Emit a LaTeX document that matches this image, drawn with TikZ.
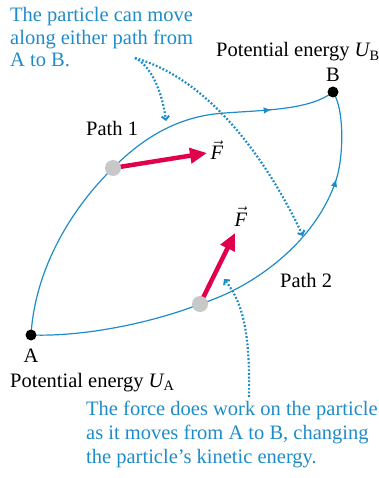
\documentclass[tikz,border=0pt]{standalone}
\usepackage{amsmath}
\usepackage{fontspec}
\setmainfont{Liberation Serif}
\usetikzlibrary{arrows.meta,decorations.markings}
\definecolor{cblue}{RGB}{30,140,200}
\definecolor{cred}{RGB}{224,0,77}
\definecolor{cgray}{RGB}{200,200,200}
\begin{document}
\begin{tikzpicture}[x=1pt,y=-1pt,
  every node/.style={inner sep=0pt, font=\fontsize{20.5}{22.5}\selectfont},
  pathline/.style={draw=cblue, line width=1.2pt},
  midarrow/.style={postaction={decorate},
    decoration={markings, mark=at position #1 with {\arrow{Latex[length=8pt,width=6.5pt]}}}},
  callout/.style={draw=cblue, line width=2.2pt, dash pattern=on 1.8pt off 1.9pt,
    -{Straight Barb[length=3.5pt,width=7.5pt,line width=2pt]}},
  force/.style={draw=cred, line width=4.5pt, -{Triangle[length=17pt,width=15pt]}},
  blackdot/.style={circle, fill=black, minimum size=11pt},
  graydot/.style={circle, fill=cgray, minimum size=16pt},
  bluetext/.style={text=cblue, align=left}]
\useasboundingbox (0,0) rectangle (379,478);
% key points
\coordinate (a) at (31,335);
\coordinate (b) at (333,92);
\coordinate (p1) at (113,168);
\coordinate (p2) at (200,304);
\coordinate (m1) at (225,113);
\coordinate (m2) at (337,177);
\coordinate (f1) at (207,153);
\coordinate (f2) at (235,233);
\coordinate (c1) at (135,58);
\coordinate (c1a) at (166,121);
\coordinate (c1b) at (303,236);
\coordinate (c2) at (249,397);
\coordinate (c2a) at (224,279);
% path 1
\draw[pathline] (a) .. controls (35,270) and (70,210) .. (p1)
  .. controls (140,141) and (175,116) .. (m1);
\draw[pathline, midarrow=0.42] (m1) .. controls (265,110) and (310,110) .. (b);
% path 2
\draw[pathline] (a) .. controls (90,337) and (160,320) .. (p2);
\draw[pathline, midarrow=0.99] (p2) .. controls (255,287) and (318,240) .. (m2);
\draw[pathline] (m2) .. controls (343,157) and (345,110) .. (b);
% callouts
\draw[callout] (c1) .. controls (150,65) and (162,90) .. (c1a);
\draw[callout] (c1) .. controls (205,78) and (262,150) .. (c1b);
\draw[callout] (c2) .. controls (250,340) and (245,305) .. (c2a);
% forces
\draw[force] (p1) -- (f1);
\draw[force] (p2) -- (f2);
% dots
\node[blackdot] (A) at (a) {};
\node[blackdot] (B) at (b) {};
\node[graydot] (P1) at (p1) {};
\node[graydot] (P2) at (p2) {};
% labels
\node[anchor=base] (F1) at (217,160) {$\vec{\text{\itshape F}}$};
\node[anchor=base] (F2) at (241,226) {$\vec{\text{\itshape F}}$};
\node[bluetext, anchor=base west] (note1) at (10,67)
  {The particle can move\\along either path from\\A to B.};
\node[anchor=base west] (UB) at (216,57) {Potential energy $\text{\itshape U}_{\text{B}}$};
\node[anchor=base] (Blab) at (333,82) {B};
\node[anchor=base west] (path1) at (86,136) {Path 1};
\node[anchor=base west] (path2) at (280,287) {Path 2};
\node[anchor=base] (Alab) at (31,362) {A};
\node[anchor=base west] (UA) at (10,387) {Potential energy $\text{\itshape U}_{\text{A}}$};
\node[bluetext, anchor=base west, font=\fontsize{20.5}{24}\selectfont] (note2) at (86,463)
  {The force does work on the particle\\as it moves from A to B, changing\\the particle’s kinetic energy.};
\end{tikzpicture}
\end{document}
